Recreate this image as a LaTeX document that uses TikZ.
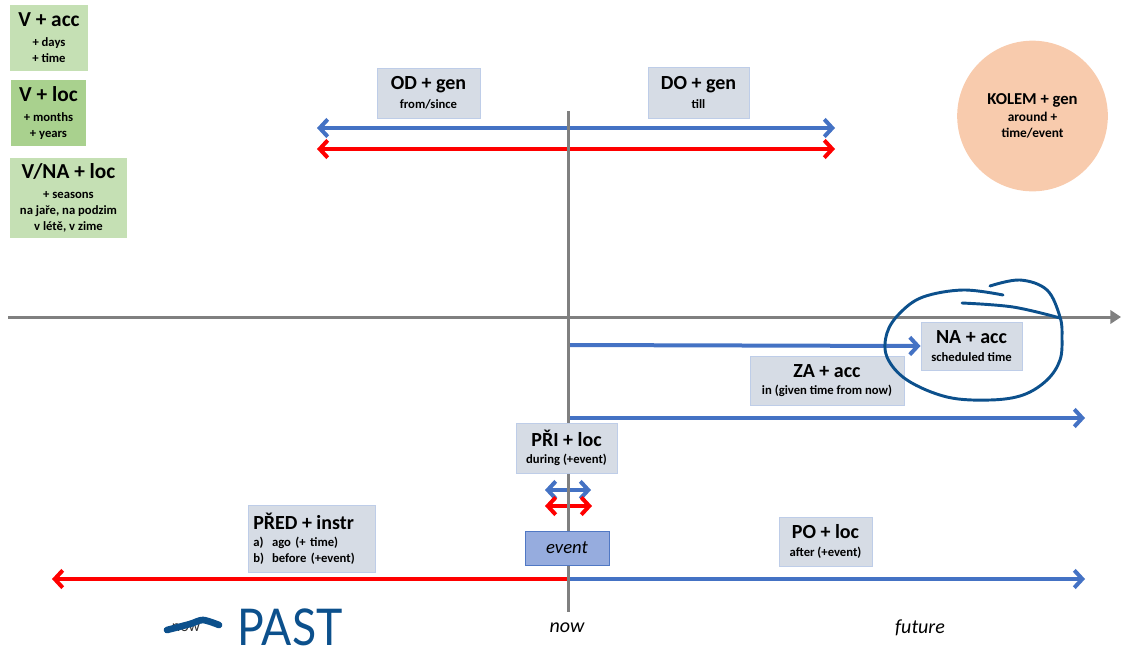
\documentclass[tikz,border=0pt]{standalone}
\usepackage{fontspec}
\setmainfont{Carlito}
\newfontfamily\handfont{Lato}
\usetikzlibrary{arrows.meta}
\definecolor{ablue}{RGB}{68,114,196}
\definecolor{ared}{RGB}{255,0,0}
\definecolor{agray}{RGB}{128,128,128}
\definecolor{boxfill}{RGB}{214,220,229}
\definecolor{boxline}{RGB}{190,205,232}
\definecolor{lgreen}{RGB}{197,224,180}
\definecolor{dgreen}{RGB}{169,209,142}
\definecolor{peach}{RGB}{248,203,173}
\definecolor{ink}{RGB}{12,80,140}
\definecolor{evfill}{RGB}{150,172,222}
\definecolor{evline}{RGB}{80,120,196}
\newcommand\tA{\fontsize{15}{17}\selectfont\bfseries}
\newcommand\tL{\fontsize{16}{18}\selectfont\bfseries}
\newcommand\sB{\fontsize{9.5}{11}\selectfont\bfseries}
\newcommand\sR{\fontsize{9.5}{11.5}\selectfont}
\tikzset{tipb/.tip={Straight Barb[length=6pt,width=13pt]}}
\begin{document}
\begin{tikzpicture}[x=0.75pt,y=-0.75pt,
  box/.style={draw=boxline, line width=0.75pt, fill=boxfill, inner sep=0pt, align=center, text=black},
  gbox/.style={fill=#1, draw=none, inner sep=0pt, align=center, text=black},
  barrow/.style={draw=ablue, line width=3pt},
  rarrow/.style={draw=ared, line width=3pt},
  gline/.style={draw=agray, line width=2.25pt},
  hand/.style={draw=ink, line width=2.2pt, line cap=round, line join=round}
]
\useasboundingbox (0,0) rectangle (1121,661);

% coordinates
\coordinate (odL) at (317,128); \coordinate (odR) at (835,128);
\coordinate (rdL) at (317,149); \coordinate (rdR) at (835,149);
\coordinate (vt) at (568,111); \coordinate (vb) at (568,612);
\coordinate (axL) at (8,317); \coordinate (axR) at (1121,317);
\coordinate (naS) at (568,345);
\coordinate (zaS) at (568,418); \coordinate (zaE) at (1085,418);
\coordinate (sbL) at (545,490); \coordinate (sbR) at (591,490);
\coordinate (srL) at (545,506); \coordinate (srR) at (592,506);
\coordinate (bO) at (568,579); \coordinate (bL) at (52,579); \coordinate (bR) at (1085,579);

% boxes (needed for arrow ends)
\node[box, minimum width=75.75pt, minimum height=36pt] (na) at (971.5,346) {\tA NA + acc\\[1pt]\sB scheduled time};

% arrows
\draw[barrow, tipb-tipb] (odL) -- (odR);
\draw[rarrow, tipb-tipb] (rdL) -- (rdR);
\draw[barrow, -tipb] (naS) -- (na.west);
\draw[barrow, -tipb] (zaS) -- (zaE);
\draw[barrow, tipb-tipb] (sbL) -- (sbR);
\draw[rarrow, tipb-tipb] (srL) -- (srR);
\draw[rarrow, -tipb] (bO) -- (bL);
\draw[barrow, -tipb] (bO) -- (bR);

% axes
\draw[gline] (vt) -- (vb);
\draw[gline, -{Triangle[length=8pt,width=10pt]}] (axL) -- (axR);

% left green boxes
\node[gbox=lgreen, minimum width=58.5pt, minimum height=49.5pt] (vacc) at (49,38) {\tL V + acc\\[3pt]\sB + days\\\sB + time};
\node[gbox=dgreen, minimum width=56.25pt, minimum height=49.5pt] (vloc) at (48.5,113) {\tL V + loc\\[3pt]\sB + months\\\sB + years};
\node[gbox=lgreen, minimum width=87.75pt, minimum height=60pt] (vna) at (68.5,198) {\tL V/NA + loc\\[3pt]\sB + seasons\\\sB na jaře, na podzim\\\sB v létě, v zime};

% grey boxes
\node[box, minimum width=77.25pt, minimum height=37.5pt] (od) at (428.5,93) {\tA OD + gen\\[2pt]\sB from/since};
\node[box, minimum width=75.75pt, minimum height=38.25pt] (do) at (698.5,92.5) {\tA DO + gen\\[2pt]\sB till};
\node[box, minimum width=115.5pt, minimum height=36.75pt] (za) at (827,380.5) {\tA ZA + acc\\[1pt]\sB in (given time from now)};
\node[box, minimum width=75.75pt, minimum height=37.5pt] (pri) at (566.5,448) {\tA PŘI + loc\\[1pt]\sB during (+event)};
\node[box, minimum width=69.75pt, minimum height=36.75pt] (po) at (825.5,541.5) {\tA PO + loc\\[1pt]\sB after (+event)};
\node[box, inner xsep=4pt, text width=87.25pt, minimum height=50.25pt, align=left] (pred) at (311.5,538.5)
  {\tA PŘED + instr\\[1pt]\sR\makebox[14pt][l]{a)}ago (+ time)\\\sR\makebox[14pt][l]{b)}before (+event)};
\node[draw=evline, line width=0.75pt, fill=evfill, minimum width=63pt, minimum height=25.5pt, inner sep=0pt,
  font=\itshape\fontsize{14}{16}\selectfont] (event) at (567,548) {event};

% circle
\node[circle, fill=peach, minimum size=113pt, inner sep=0pt, align=center] (kolem) at (1032.5,116)
  {\fontsize{12.5}{14}\selectfont\bfseries KOLEM + gen\\[1pt]\fontsize{10}{12}\selectfont\bfseries around +\\\fontsize{10}{12}\selectfont\bfseries time/event};

% labels
\node[font=\itshape\fontsize{15}{17}\selectfont] (now) at (567,628) {now};
\node[font=\itshape\fontsize{15}{17}\selectfont] (future) at (920,628) {future};

% handwriting
\draw[hand] plot[smooth, tension=0.6] coordinates {(990,286) (1020,280) (1047,290) (1060,317) (1062,337) (1060,360) (1047,380) (1023,395) (990,400) (947,397) (907,380) (887,357) (887,333) (900,313) (923,297) (963,290) (1003,295)};
\draw[hand] plot[smooth, tension=0.6] coordinates {(962,303) (1013,307) (1060,318)};

\node[font=\fontsize{12}{12}\selectfont, text=black!80] (oldnow) at (186,628) {now};
\draw[draw=ink, line width=5pt, line cap=round] plot[smooth] coordinates {(167,630) (190,624) (203,620) (219,625)};
\node[text=ink, font=\handfont\fontsize{38}{38}\selectfont, inner sep=0pt] (past) at (290,627) {\scalebox{0.88}[1]{PAST}};
\end{tikzpicture}
\end{document}
